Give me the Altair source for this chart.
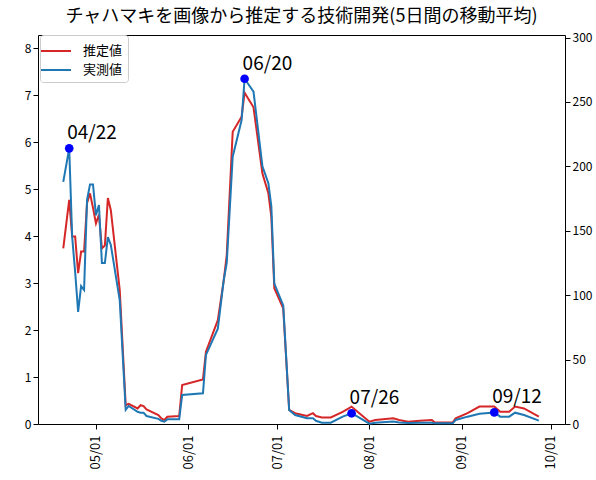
import altair as alt
import pandas as pd

# Five-day moving averages: estimated counts (left axis) and trap counts (right axis)
dates = [
    "2021-04-20", "2021-04-22", "2021-04-23", "2021-04-24", "2021-04-25",
    "2021-04-26", "2021-04-27", "2021-04-28", "2021-04-29", "2021-04-30",
    "2021-05-01", "2021-05-02", "2021-05-03", "2021-05-04", "2021-05-05",
    "2021-05-06", "2021-05-09", "2021-05-11", "2021-05-12", "2021-05-15",
    "2021-05-16", "2021-05-17", "2021-05-18", "2021-05-22", "2021-05-23",
    "2021-05-24", "2021-05-25", "2021-05-29", "2021-05-30", "2021-06-06",
    "2021-06-07", "2021-06-11", "2021-06-13", "2021-06-14", "2021-06-16",
    "2021-06-19", "2021-06-20", "2021-06-23", "2021-06-26", "2021-06-28",
    "2021-06-29", "2021-06-30", "2021-07-03", "2021-07-05", "2021-07-07",
    "2021-07-11", "2021-07-13", "2021-07-14", "2021-07-16", "2021-07-19",
    "2021-07-23", "2021-07-26", "2021-07-28", "2021-08-01", "2021-08-03",
    "2021-08-09", "2021-08-11", "2021-08-14", "2021-08-18", "2021-08-22",
    "2021-08-23", "2021-08-29", "2021-08-30", "2021-09-03", "2021-09-07",
    "2021-09-12", "2021-09-14", "2021-09-17", "2021-09-19", "2021-09-22",
    "2021-09-27",
]
estimated = [
    3.74, 4.77, 3.99, 3.99, 3.21,
    3.67, 3.67, 4.70, 4.91, 4.60,
    4.27, 4.45, 3.74, 3.80, 4.81,
    4.55, 2.85, 0.40, 0.43, 0.33,
    0.40, 0.38, 0.31, 0.19, 0.12,
    0.085, 0.155, 0.17, 0.83, 0.95,
    1.54, 2.21, 3.06, 3.60, 6.22,
    6.54, 7.05, 6.74, 5.33, 4.91,
    4.41, 2.89, 2.46, 0.30, 0.23,
    0.17, 0.23, 0.17, 0.14, 0.14,
    0.26, 0.37, 0.26, 0.05, 0.085,
    0.12, 0.085, 0.05, 0.07, 0.085,
    0.03, 0.03, 0.12, 0.23, 0.37,
    0.37, 0.26, 0.26, 0.37, 0.33,
    0.155,
]
measured = [
    188, 214, 145, 118, 87,
    107, 104, 174, 186, 186,
    162, 170, 125, 125, 145,
    139, 96, 11, 14, 9.5,
    8.8, 8.8, 6.2, 4.0, 2.5,
    1.8, 3.6, 3.6, 22.5, 23.8,
    53.6, 74, 112, 125, 207.5,
    236, 268, 258, 200, 187,
    169, 109, 92, 10.9, 7.0,
    4.4, 4.4, 2.5, 1.0, 1.0,
    5.7, 8.3, 5.7, 0.3, 1.0,
    1.9, 1.2, 0.8, 1.0, 1.0,
    0.5, 0.5, 3.1, 5.7, 8.0,
    9.0, 5.7, 5.7, 8.8, 7.0,
    2.6,
]

peak_dates = ["2021-04-22", "2021-06-20", "2021-07-26", "2021-09-12"]
peak_labels = ["04/22", "06/20", "07/26", "09/12"]

series_names = ["推定値", "実測値"]
series_colors = ["#d62728", "#1f77b4"]
left_ticks = [0, 1, 2, 3, 4, 5, 6, 7, 8]
right_ticks = [0, 50, 100, 150, 200, 250, 300]
month_ticks = [5, 6, 7, 8, 9, 10]

JP = "Noto Sans CJK JP"

df = pd.DataFrame({"date": dates, "est": estimated, "obs": measured})
peaks = df[df["date"].isin(peak_dates)].copy()
peaks["label"] = peaks["date"].map(dict(zip(peak_dates, peak_labels)))

x_enc = alt.X(
    "date:T",
    scale=alt.Scale(
        type="utc",
        domain=[
            alt.DateTime(year=2021, month=4, date=11, hours=12, utc=True),
            alt.DateTime(year=2021, month=10, date=5, hours=19, utc=True),
        ],
    ),
    axis=alt.Axis(
        title=None,
        values=[alt.DateTime(year=2021, month=m, date=1, utc=True) for m in month_ticks],
        labelExpr="utcFormat(datum.value, '%m/%d')",
        labelAngle=270,
        labelAlign="right",
        labelBaseline="middle",
        labelPadding=6,
        labelFontSize=13,
        grid=False,
    ),
)

y_left = alt.Y(
    "est:Q",
    scale=alt.Scale(domain=[0, 8.28], nice=False),
    axis=alt.Axis(title=None, orient="left", values=left_ticks, grid=False),
)
y_right = alt.Y(
    "obs:Q",
    scale=alt.Scale(domain=[0, 302], nice=False),
    axis=alt.Axis(title=None, orient="right", values=right_ticks, grid=False),
)

color_scale = alt.Scale(domain=series_names, range=series_colors)
legend = alt.Legend(
    title=None,
    orient="none",
    legendX=2,
    legendY=0,
    symbolType="M-1.5,0H1.5",
    symbolSize=400,
    symbolStrokeWidth=2,
    labelFont=JP,
    labelFontSize=13,
    labelOffset=16,
    rowPadding=1,
    padding=5,
    strokeColor="#cccccc",
    fillColor="white",
    cornerRadius=3,
)

red = (
    alt.Chart(df)
    .transform_calculate(series="'推定値'")
    .mark_line(strokeWidth=2)
    .encode(x=x_enc, y=y_left, color=alt.Color("series:N", scale=color_scale, legend=legend))
)

blue = (
    alt.Chart(df)
    .transform_calculate(series="'実測値'")
    .mark_line(strokeWidth=2)
    .encode(x=x_enc, y=y_right, color=alt.Color("series:N", scale=color_scale, legend=legend))
)

dots = (
    alt.Chart(peaks)
    .mark_circle(size=75, color="#0000ff", opacity=1)
    .encode(x=x_enc, y=y_right)
)

labels = (
    alt.Chart(peaks)
    .mark_text(align="left", baseline="bottom", dx=-2, dy=-5, font=JP, fontSize=19, color="black")
    .encode(x=x_enc, y=y_right, text="label:N")
)

chart = (
    alt.layer(red, alt.layer(blue, dots, labels))
    .resolve_scale(y="independent")
    .properties(
        width=527,
        height=389,
        padding={"left": 38, "top": 35, "right": 31, "bottom": 56},
        autosize=alt.AutoSizeParams(type="none"),
        title=alt.TitleParams(
            "チャハマキを画像から推定する技術開発(5日間の移動平均)",
            font=JP,
            fontSize=18,
            fontWeight="normal",
            anchor="middle",
            offset=6,
            color="black",
        ),
    )
    .configure_view(stroke="black", strokeWidth=1)
    .configure_axis(
        domain=False,
        tickColor="black",
        tickSize=5,
        labelColor="black",
        labelFont=JP,
        labelFontSize=12,
    )
)

chart.save("out.html", embed_options={"renderer": "svg", "actions": False})
